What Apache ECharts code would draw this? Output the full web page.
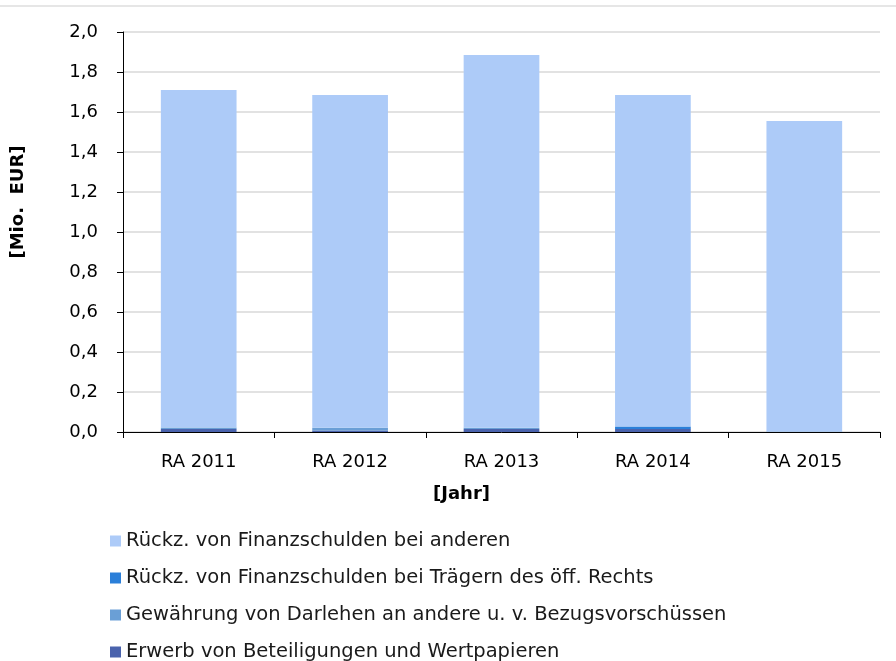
<!DOCTYPE html>
<html>
<head>
<meta charset="utf-8">
<script src="https://cdn.jsdelivr.net/npm/echarts@6/dist/echarts.min.js"></script>
<style>
  html, body { margin: 0; padding: 0; background: #fff; }
  #chart { width: 896px; height: 661px; }
</style>
</head>
<body>
<div id="chart"></div>
<script>
// Jahre
var categories = ['RA 2011', 'RA 2012', 'RA 2013', 'RA 2014', 'RA 2015'];

// Werte in Mio. EUR
var erwerb = [0.015, 0.008, 0.015, 0.015, 0.000];
var gewaehrung = [0.007, 0.013, 0.006, 0.000, 0.003];
var rueckzTraeger = [0.000, 0.000, 0.000, 0.012, 0.000];
var rueckzAndere = [1.688, 1.664, 1.864, 1.658, 1.552];

var names = [
  'Rückz. von Finanzschulden bei anderen',
  'Rückz. von Finanzschulden bei Trägern des öff. Rechts',
  'Gewährung von Darlehen an andere u. v. Bezugsvorschüssen',
  'Erwerb von Beteiligungen und Wertpapieren'
];

var chart = echarts.init(document.getElementById('chart'));

function bar(name, data, color) {
  return {
    name: name,
    type: 'bar',
    stack: 'total',
    barWidth: '50%',
    data: data,
    itemStyle: { color: color },
    emphasis: { disabled: true }
  };
}

var font = 'DejaVu Sans, Verdana, sans-serif';

var option = {
  animation: false,
  textStyle: { fontFamily: font },
  grid: { left: 123, right: 16, top: 32, bottom: 229, containLabel: false },
  legend: {
    orient: 'vertical',
    left: 110,
    top: 531,
    height: 200,
    padding: 0,
    itemWidth: 11,
    itemHeight: 11,
    itemGap: 17,
    icon: 'rect',
    data: names,
    textStyle: { fontSize: 19.5, color: '#1a1a1a', fontFamily: font }
  },
  xAxis: {
    type: 'category',
    data: categories,
    axisLine: { lineStyle: { color: '#000', width: 1 } },
    axisTick: { show: true, length: 6, lineStyle: { color: '#000' } },
    axisLabel: { fontSize: 18, color: '#000', margin: 21 },
    name: '[Jahr]',
    nameLocation: 'middle',
    nameGap: 53,
    nameTextStyle: { fontSize: 18, fontWeight: 'bold', color: '#000', padding: [0, 80, 0, 0] }
  },
  yAxis: {
    type: 'value',
    min: 0,
    max: 2,
    interval: 0.2,
    axisLine: { show: true, lineStyle: { color: '#000', width: 1 } },
    axisTick: { show: true, length: 6, lineStyle: { color: '#000' } },
    splitLine: { lineStyle: { color: '#d9d9d9', width: 1.5 } },
    axisLabel: {
      fontSize: 18,
      color: '#000',
      margin: 25,
      formatter: function (v) { return v.toFixed(1).replace('.', ','); }
    },
    name: '[Mio.  EUR]',
    nameLocation: 'middle',
    nameGap: 96,
    nameTextStyle: { fontSize: 18, fontWeight: 'bold', color: '#000', padding: [0, 0, 0, 60] }
  },
  graphic: [{
    type: 'line',
    shape: { x1: 0, y1: 6, x2: 896, y2: 6 },
    style: { stroke: '#dedede', lineWidth: 1.5 }
  }],
  series: [
    bar(names[3], erwerb, '#4a63ad'),
    bar(names[2], gewaehrung, '#6a9fd6'),
    bar(names[1], rueckzTraeger, '#2b7fd9'),
    bar(names[0], rueckzAndere, '#adcbf8')
  ]
};

chart.setOption(option);
</script>
</body>
</html>
